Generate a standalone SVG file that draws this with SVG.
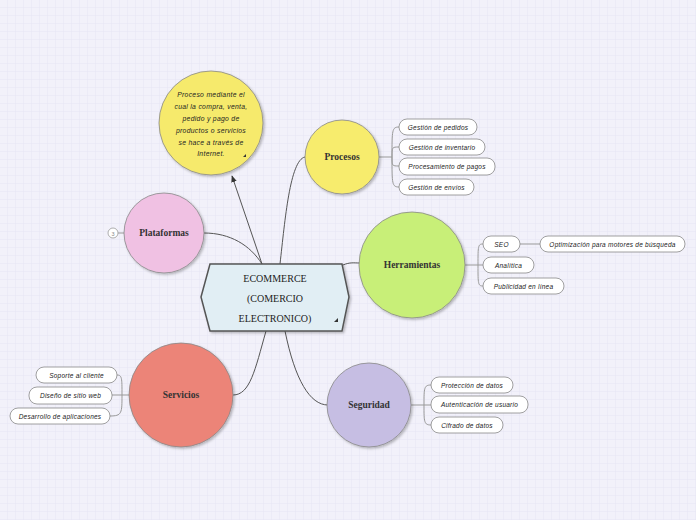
<svg xmlns="http://www.w3.org/2000/svg" width="696" height="520" viewBox="0 0 696 520">
<defs>
<pattern id="grid" width="8" height="8" patternUnits="userSpaceOnUse">
<rect width="8" height="8" fill="#f2f1fa"/>
<path d="M8 0V8M0 8H8" stroke="#e7e5f4" stroke-width="1" fill="none"/>
</pattern>
<marker id="arr" viewBox="0 0 10 10" refX="9" refY="5" markerWidth="7" markerHeight="7" orient="auto-start-reverse">
<path d="M0 1L10 5L0 9z" fill="#333"/>
</marker>
<filter id="sh" x="-20%" y="-20%" width="140%" height="140%">
<feDropShadow dx="1.5" dy="1.5" stdDeviation="1.2" flood-color="#000" flood-opacity="0.25"/>
</filter>
</defs>
<style>
.main{font-family:"Liberation Serif",serif;font-size:10px;fill:#222;text-anchor:middle}
.topic{font-family:"Liberation Serif",serif;font-weight:bold;font-size:9.5px;fill:#333;text-anchor:middle}
.sub{font-family:"Liberation Sans",sans-serif;font-style:italic;font-size:6.5px;letter-spacing:0.25px;fill:#222;text-anchor:middle}
.note{font-family:"Liberation Sans",sans-serif;font-style:italic;font-size:6.8px;letter-spacing:0.3px;fill:#222;text-anchor:middle}
.box{fill:#fff;stroke:#888;stroke-width:0.8}
.circ{stroke:#888;stroke-width:0.8}
.conn{fill:none;stroke:#555;stroke-width:1}
.sconn{fill:none;stroke:#999;stroke-width:1}
</style>
<rect width="696" height="520" fill="url(#grid)"/>

<g id="connectors">
<path class="conn" d="M262 264 L232 176" marker-end="url(#arr)"/>
<path class="conn" d="M280 264 C285 220 290 160 305 157"/>
<path class="conn" d="M343 265 C350 262 354 263 360 263"/>
<path class="conn" d="M285 331 C295 380 310 405 328 405"/>
<path class="conn" d="M266 331 C255 370 250 395 233 395"/>
<path class="conn" d="M262 264 C250 245 230 233 204 233"/>
<path class="sconn" d="M124 233 L118 233"/>
<path class="sconn" d="M379 157 L392 157 M392 157 C392 130 392 127 399 127 M392 157 C392 147 392 147 399 147 M392 157 C392 166 392 166 399 166 M392 157 C392 184 392 187 399 187"/>
<path class="sconn" d="M465 265 L478 265 M478 265 C478 246 478 244 483 244 M478 265 L483 265 M478 265 C478 284 478 286 483 286 M520 244 L540 244"/>
<path class="sconn" d="M411 405 L424 405 M424 405 C424 388 424 385 431 385 M424 405 L431 405 M424 405 C424 422 424 425 431 425"/>
<path class="sconn" d="M129 395 L122 395 M122 395 C122 378 122 375 117 375 M122 395 L112 395 M122 395 C122 413 122 416 110 416"/>
</g>

<g id="note">
<circle class="circ" cx="211" cy="123" r="52" fill="#f6ea6c" filter="url(#sh)"/>
<text class="note" x="211" y="97">Proceso mediante el</text>
<text class="note" x="211" y="109">cual la compra, venta,</text>
<text class="note" x="211" y="121">pedido y pago de</text>
<text class="note" x="211" y="133">productos o servicios</text>
<text class="note" x="211" y="145">se hace a través de</text>
<text class="note" x="211" y="156">Internet.</text>
<path d="M246 157 L243 157 L246 154z" fill="#333"/>
</g>

<g id="central">
<path d="M201 297 L210 264 L342 264 L349 297 L342 331 L210 331 Z" fill="#e1eef4" stroke="#555" stroke-width="1.5" filter="url(#sh)"/>
<text class="main" x="275" y="282">ECOMMERCE</text>
<text class="main" x="275" y="302">(COMERCIO</text>
<text class="main" x="275" y="322">ELECTRONICO)</text>
<path d="M338 322 L334 322 L338 318z" fill="#333"/>
</g>

<g id="procesos">
<circle class="circ" cx="342" cy="157" r="37" fill="#f7ec6d" filter="url(#sh)"/>
<text class="topic" x="342" y="160">Procesos</text>
</g>
<g id="p1"><rect class="box" x="399" y="119" width="78" height="16" rx="8"/><text class="sub" x="438" y="129.5">Gestión de pedidos</text></g>
<g id="p2"><rect class="box" x="399" y="139" width="86" height="16" rx="8"/><text class="sub" x="442" y="149.5">Gestión de inventario</text></g>
<g id="p3"><rect class="box" x="399" y="158" width="96" height="17" rx="8"/><text class="sub" x="447" y="169">Procesamiento de pagos</text></g>
<g id="p4"><rect class="box" x="399" y="179" width="75" height="16" rx="8"/><text class="sub" x="436.5" y="189.5">Gestión de envíos</text></g>

<g id="herramientas">
<circle class="circ" cx="412" cy="265" r="53" fill="#c8ef78" filter="url(#sh)"/>
<text class="topic" x="412" y="268">Herramientas</text>
</g>
<g id="h1"><rect class="box" x="483" y="236" width="37" height="16" rx="8"/><text class="sub" x="501.5" y="246.5">SEO</text></g>
<g id="h1a"><rect class="box" x="540" y="236" width="145" height="16" rx="8"/><text class="sub" x="612.5" y="246.5">Optimización para motores de búsqueda</text></g>
<g id="h2"><rect class="box" x="483" y="257" width="51" height="16" rx="8"/><text class="sub" x="508.5" y="267.5">Analítica</text></g>
<g id="h3"><rect class="box" x="483" y="278" width="81" height="16" rx="8"/><text class="sub" x="523.5" y="288.5">Publicidad en línea</text></g>

<g id="seguridad">
<circle class="circ" cx="369" cy="405" r="42" fill="#c6bee3" filter="url(#sh)"/>
<text class="topic" x="369" y="408">Seguridad</text>
</g>
<g id="s1"><rect class="box" x="431" y="377" width="82" height="16" rx="8"/><text class="sub" x="472" y="387.5">Protección de datos</text></g>
<g id="s2"><rect class="box" x="431" y="396" width="97" height="17" rx="8"/><text class="sub" x="479.5" y="407">Autenticación de usuario</text></g>
<g id="s3"><rect class="box" x="431" y="417" width="72" height="16" rx="8"/><text class="sub" x="467" y="427.5">Cifrado de datos</text></g>

<g id="servicios">
<circle class="circ" cx="181" cy="395" r="52" fill="#ec8478" filter="url(#sh)"/>
<text class="topic" x="181" y="398">Servicios</text>
</g>
<g id="v1"><rect class="box" x="36" y="367" width="81" height="16" rx="8"/><text class="sub" x="76.5" y="377.5">Soporte al cliente</text></g>
<g id="v2"><rect class="box" x="29" y="387" width="83" height="17" rx="8"/><text class="sub" x="70.5" y="398">Diseño de sitio web</text></g>
<g id="v3"><rect class="box" x="10" y="408" width="100" height="16" rx="8"/><text class="sub" x="60" y="418.5">Desarrollo de aplicaciones</text></g>

<g id="plataformas">
<circle class="circ" cx="164" cy="233" r="40" fill="#f0c1e3" filter="url(#sh)"/>
<text class="topic" x="164" y="236">Plataformas</text>
<circle cx="113" cy="233" r="5" fill="#fff" stroke="#999" stroke-width="0.8"/>
<text x="113" y="235.5" font-family="Liberation Sans,sans-serif" font-size="5.5" fill="#888" text-anchor="middle">3</text>
</g>
</svg>
